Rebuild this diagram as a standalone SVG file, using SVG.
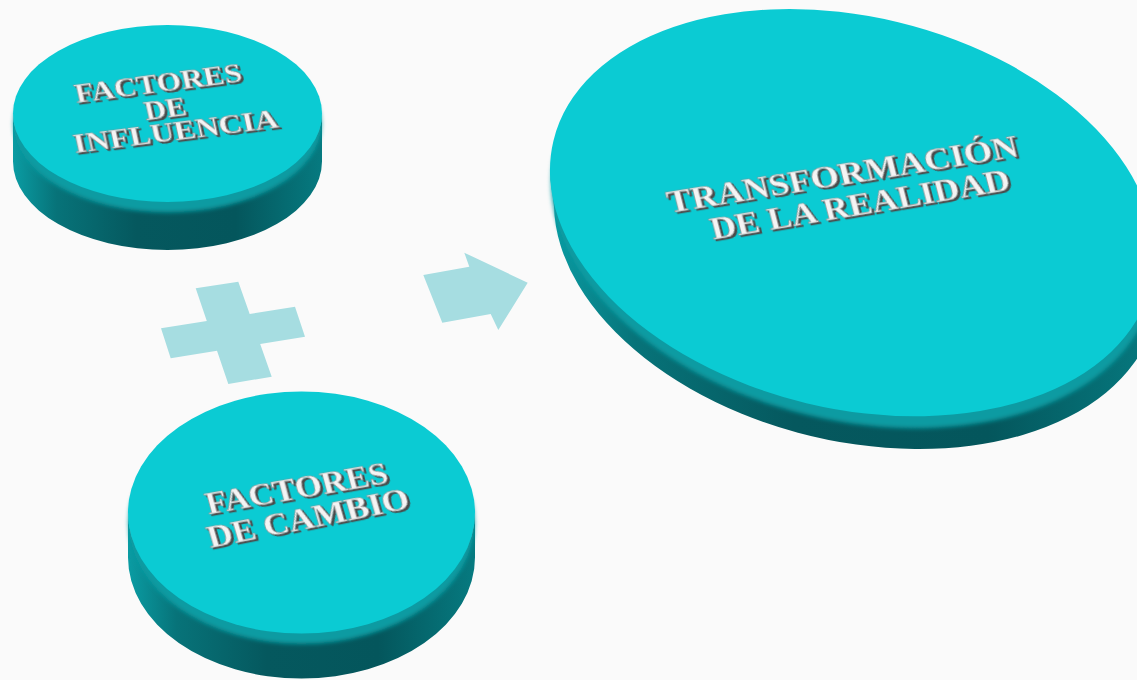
<svg xmlns="http://www.w3.org/2000/svg" width="1137" height="680" viewBox="0 0 1137 680">
<defs>
<linearGradient id="sideGrad" x1="0" y1="0" x2="1" y2="0">
<stop offset="0" stop-color="#0a9ca3"/>
<stop offset="0.14" stop-color="#077379"/>
<stop offset="0.4" stop-color="#05585e"/>
<stop offset="0.72" stop-color="#04565c"/>
<stop offset="1" stop-color="#067a80"/>
</linearGradient>
<filter id="emb" x="-10%" y="-40%" width="120%" height="180%">
<feGaussianBlur in="SourceAlpha" stdDeviation="0.5"/>
<feOffset dx="1.5" dy="2.2" result="o"/>
<feFlood flood-color="#4a4a4a"/>
<feComposite in2="o" operator="in" result="s"/>
<feMerge><feMergeNode in="s"/><feMergeNode in="SourceGraphic"/></feMerge>
</filter>
<filter id="soft" x="-5%" y="-5%" width="110%" height="110%">
<feGaussianBlur stdDeviation="2"/>
</filter>
</defs>
<style>
.side{fill:url(#sideGrad);}
.rim{fill:#089ba2;filter:url(#soft);}
.face{fill:#0bcbd3;}
.lbl{font-family:"Liberation Serif","Times New Roman",serif;font-weight:bold;fill:#f4f4f4;stroke:#8e8e8e;stroke-width:0.6;text-anchor:middle;filter:url(#emb);}
.sym{fill:#a6dde1;}
</style>
<rect width="1137" height="680" fill="#fafafa"/>

<g id="connectors">
<polygon id="plus" class="sym" points="195.7,288.3 238.3,281.7 249.7,314 295,306.7 305,336.7 260.2,343.9 271.7,376.7 228.3,384 217,350.8 170.7,358.3 161,328.3 206.8,320.9"/>
<polygon id="arrow" class="sym" points="423.3,275 469.3,266.7 464.3,252.7 527.7,282.7 498.3,330 490.7,314 442.3,322.7"/>
</g>

<g id="node-influencia">
<path class="side" d="M13,113.5 L13,161.5 A154.5,88.5 0 0 0 322,161.5 L322,113.5 A154.5,88.5 0 0 1 13,113.5 Z"/>
<ellipse class="rim" cx="167.5" cy="124" rx="154" ry="88.5"/>
<ellipse class="face" cx="167.5" cy="113.5" rx="154.5" ry="88.5"/>
<text class="lbl" font-size="27" textLength="168" lengthAdjust="spacingAndGlyphs" transform="translate(160 92) rotate(-7.4) skewX(5)">FACTORES</text>
<text class="lbl" font-size="27" textLength="42" lengthAdjust="spacingAndGlyphs" transform="translate(167 117.5) rotate(-7.4) skewX(5)">DE</text>
<text class="lbl" font-size="27" textLength="206" lengthAdjust="spacingAndGlyphs" transform="translate(177.5 140) rotate(-7.2) skewX(5)">INFLUENCIA</text>
</g>

<g id="node-cambio">
<path class="side" d="M128,512.5 L128,557.5 A173.5,121 0 0 0 475,557.5 L475,512.5 A173.5,121 0 0 1 128,512.5 Z"/>
<ellipse class="rim" cx="301.5" cy="523" rx="173" ry="121"/>
<ellipse class="face" cx="301.5" cy="512.5" rx="173.5" ry="121"/>
<text class="lbl" font-size="31" textLength="184" lengthAdjust="spacingAndGlyphs" transform="translate(299.2 498.5) rotate(-9.9) skewX(5)">FACTORES</text>
<text class="lbl" font-size="31" textLength="205" lengthAdjust="spacingAndGlyphs" transform="translate(310.8 528) rotate(-11.2) skewX(5)">DE CAMBIO</text>
</g>

<g id="node-transformacion">
<path class="side" d="M550,170.4 L554,206.4 A307.4,195.9 13.56 0 0 1158.6,291 L1154.6,255 A307.4,195.9 13.56 0 1 550,170.4 Z"/>
<ellipse class="rim" cx="852.3" cy="212.7" rx="307" ry="195.9" transform="translate(1 12) rotate(13.56 852.3 212.7)"/>
<ellipse class="face" cx="852.3" cy="212.7" rx="307.4" ry="195.9" transform="rotate(13.56 852.3 212.7)"/>
<text class="lbl" font-size="31" textLength="355" lengthAdjust="spacingAndGlyphs" transform="translate(845 184.5) rotate(-9.2) skewX(5)">TRANSFORMACIÓN</text>
<text class="lbl" font-size="31" textLength="303" lengthAdjust="spacingAndGlyphs" transform="translate(862.5 214.5) rotate(-9.5) skewX(5)">DE LA REALIDAD</text>
</g>
</svg>
